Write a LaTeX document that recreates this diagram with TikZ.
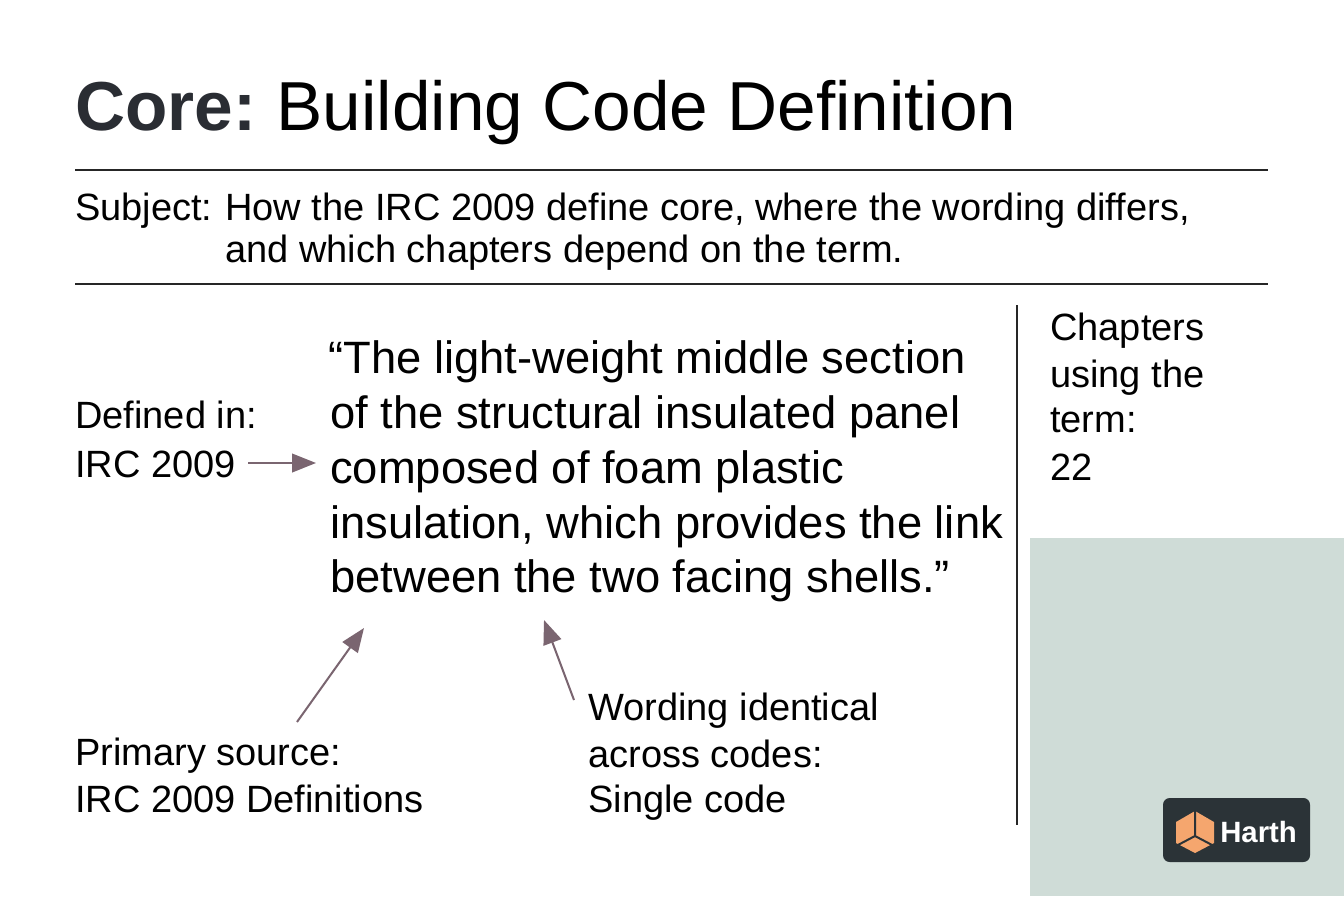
\documentclass[tikz,border=0pt]{standalone}
\usepackage{fontspec}
\setmainfont{Liberation Sans}
\usetikzlibrary{positioning,arrows.meta}
\definecolor{arrowc}{HTML}{7A6570}
\definecolor{panelc}{HTML}{CFDCD7}
\definecolor{logoc}{HTML}{2B3337}
\definecolor{cubec}{HTML}{F5A66E}
\definecolor{titlec}{HTML}{2A2D33}
\tikzset{
  txt/.style={anchor=base west,inner sep=0pt,align=left},
  big/.style={txt,font=\fontsize{34}{41}\selectfont},
  mid/.style={txt,font=\fontsize{28.5}{35}\selectfont},
  sub/.style={txt,font=\fontsize{28.5}{32}\selectfont},
  rule/.style={line width=1pt,black!85},
  pointer/.style={-{Triangle[length=18pt,width=14pt]},arrowc,line width=1.5pt}
}
\begin{document}
\begin{tikzpicture}[x=0.75pt,y=-0.75pt]
\useasboundingbox (0,0) rectangle (1344,896);
\fill[white] (0,0) rectangle (1344,896);
\fill[panelc] (1030,538) rectangle (1344,896);
% heading
\node[txt,font=\fontsize{52}{60}\selectfont] (title) at (75,130)
  {\textcolor{titlec}{\bfseries Core:}\hspace{-4pt} Building Code Definition};
\draw[rule] (75,170) -- (1268,170);
\node[sub] (subj) at (75,220) {Subject:};
\node[sub] (subj1) at (225,220) {How the IRC 2009 define core, where the wording differs,};
\node[sub] (subj2) at (225,262) {and which chapters depend on the term.};
\draw[rule] (75,284) -- (1268,284);
% quote
\node[big] (q1) at (328,373) {“The light-weight middle section};
\node[big] (q2) at (330,428) {of the structural insulated panel};
\node[big] (q3) at (330,483) {composed of foam plastic};
\node[big] (q4) at (330,538) {insulation, which provides the link};
\node[big] (q5) at (330,592) {between the two facing shells.”};
% side labels
\node[mid] (def) at (75,428) {Defined in:};
\node[mid] (defb) at (75,477) {IRC 2009};
\node[mid] (prim) at (75,765) {Primary source:};
\node[mid] (primb) at (75,812) {IRC 2009 Definitions};
\node[mid] (word) at (588,720) {Wording identical};
\node[mid] (wordb) at (588,767) {across codes:};
\node[mid] (wordc) at (588,812) {Single code};
\node[mid] (chap) at (1050,340) {Chapters};
\node[mid] (chapb) at (1050,387) {using the};
\node[mid] (chapc) at (1050,432) {term:};
\node[mid] (chapd) at (1050,480) {22};
\draw[rule] (1017,305) -- (1017,825);
% pointers
\coordinate (defend) at (248,463);
\coordinate (primstart) at (297,722);
\coordinate (wordstart) at (574,700);
\draw[pointer] (defend) -- (316,463);
\draw[pointer] (primstart) -- (364,628);
\draw[pointer] (wordstart) -- (544,620);
% logo
\fill[logoc,rounded corners=5pt] (1163,798) rectangle (1310,862);
\fill[cubec] (1195,811) -- (1214,822) -- (1214,843) -- (1195,853) -- (1176,843) -- (1176,822) -- cycle;
\draw[logoc,line width=1.5pt] (1195,811) -- (1195,836) -- (1214,846) (1195,836) -- (1176,846);
\node[txt,font=\fontsize{22}{24}\selectfont\bfseries,text=white] (logo) at (1220,842) {Harth};
\end{tikzpicture}
\end{document}
